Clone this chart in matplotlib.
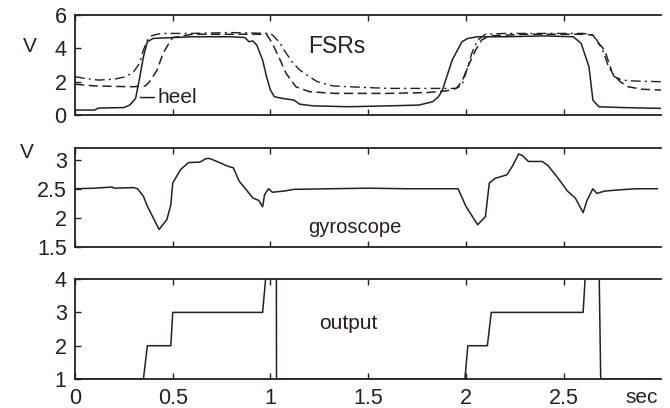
import matplotlib
matplotlib.use("Agg")
import matplotlib.pyplot as plt

plt.rcParams['font.family'] = ['Liberation Sans', 'DejaVu Sans']
ink = '#2b1d1d'

# FSR signals (V)
heel_t = [0, 0.1, 0.12, 0.25, 0.28, 0.31, 0.33, 0.35, 0.37, 0.40, 0.5, 0.6, 0.8, 0.87, 0.89, 0.91,
          0.93, 0.96, 0.98, 1.0, 1.02, 1.06, 1.12, 1.15, 1.22, 1.4, 1.6, 1.76, 1.83, 1.86, 1.88, 1.93,
          1.98, 2.01, 2.06, 2.2, 2.4, 2.55, 2.59, 2.63, 2.65, 2.68, 2.8, 3.0]
heel_v = [0.3, 0.3, 0.42, 0.45, 0.6, 1.0, 2.2, 3.5, 4.4, 4.6, 4.65, 4.7, 4.7, 4.65, 4.4, 4.45,
          4.2, 3.3, 2.3, 1.5, 1.1, 1.0, 0.9, 0.65, 0.55, 0.5, 0.55, 0.6, 0.8, 1.1, 1.5, 3.3,
          4.4, 4.6, 4.7, 4.7, 4.75, 4.7, 4.3, 2.9, 0.9, 0.5, 0.45, 0.4]

dash_t = [0, 0.1, 0.2, 0.3, 0.36, 0.38, 0.42, 0.45, 0.49, 0.5, 0.55, 0.6, 0.8, 0.95, 0.98, 1.01,
          1.05, 1.08, 1.13, 1.2, 1.33, 1.6, 1.8, 1.9, 1.95, 1.98, 2.01, 2.05, 2.08, 2.12, 2.3,
          2.6, 2.65, 2.68, 2.71, 2.75, 2.79, 2.83, 2.9, 3.0]
dash_v = [1.85, 1.75, 1.72, 1.7, 1.75, 1.98, 2.7, 3.7, 4.5, 4.65, 4.75, 4.85, 4.85, 4.85, 4.85, 4.3,
          3.3, 2.5, 1.7, 1.4, 1.3, 1.3, 1.35, 1.45, 1.6, 2.0, 2.9, 3.9, 4.5, 4.75, 4.85,
          4.85, 4.8, 4.3, 3.9, 2.5, 2.0, 1.7, 1.55, 1.5]

dd_t = [0, 0.05, 0.12, 0.2, 0.26, 0.3, 0.33, 0.35, 0.37, 0.39, 0.42, 0.45, 0.6, 0.8, 1.0, 1.02,
        1.05, 1.07, 1.11, 1.15, 1.2, 1.24, 1.32, 1.4, 1.6, 1.8, 1.95, 1.98, 2.01, 2.03, 2.06,
        2.1, 2.2, 2.4, 2.6, 2.65, 2.67, 2.7, 2.73, 2.76, 2.8, 2.85, 3.0]
dd_v = [2.3, 2.2, 2.1, 2.15, 2.3, 2.6, 3.1, 3.9, 4.5, 4.75, 4.85, 4.9, 4.9, 4.95, 4.9, 4.7,
        4.3, 3.9, 3.2, 2.7, 2.3, 2.0, 1.75, 1.7, 1.6, 1.6, 1.6, 1.8, 2.9, 3.7, 4.5,
        4.85, 4.9, 4.9, 4.9, 4.8, 4.5, 3.9, 2.9, 2.3, 2.1, 2.05, 2.0]

# gyroscope (V)
gyro_t = [0, 0.1, 0.19, 0.2, 0.3, 0.32, 0.35, 0.37, 0.43, 0.47, 0.49, 0.5, 0.54, 0.58, 0.64, 0.67,
          0.69, 0.74, 0.78, 0.81, 0.84, 0.86, 0.91, 0.94, 0.96, 0.97, 0.99, 1.01, 1.07, 1.12,
          1.3, 1.5, 1.7, 1.9, 1.96, 2.0, 2.06, 2.1, 2.12, 2.15, 2.21, 2.24, 2.27, 2.29, 2.32,
          2.39, 2.42, 2.47, 2.52, 2.56, 2.6, 2.62, 2.65, 2.67, 2.71, 2.78, 2.87, 2.98]
gyro_v = [2.5, 2.51, 2.53, 2.51, 2.52, 2.5, 2.37, 2.2, 1.8, 1.97, 2.22, 2.6, 2.83, 2.95, 2.96, 3.02,
          3.02, 2.95, 2.89, 2.86, 2.63, 2.55, 2.34, 2.3, 2.19, 2.4, 2.5, 2.44, 2.46, 2.49,
          2.5, 2.51, 2.5, 2.5, 2.5, 2.2, 1.88, 2.02, 2.6, 2.68, 2.74, 2.9, 3.1, 3.07, 2.97,
          2.97, 2.9, 2.69, 2.46, 2.34, 2.09, 2.3, 2.5, 2.42, 2.46, 2.48, 2.5, 2.5]

# detector output
out_t = [0, 0.35, 0.37, 0.49, 0.5, 0.96, 0.99, 1.03, 1.031, 1.995, 2.01, 2.11, 2.13, 2.6, 2.62,
         2.68, 2.69, 3.0]
out_v = [1, 1, 2, 2, 3, 3, 5, 5, 1, 1, 2, 2, 3, 3, 5, 5, 1, 1]

xticks = [0, 0.5, 1, 1.5, 2, 2.5]
xlabels = ['0', '0.5', '1', '1.5', '2', '2.5']
fsr_ticks = [0, 2, 4, 6]
gyro_ticks = [1.5, 2, 2.5, 3]
gyro_labels = ['1.5', '2', '2.5', '3']
out_ticks = [1, 2, 3, 4]

fig = plt.figure(figsize=(6.7, 4.08), dpi=100)
ax1 = fig.add_axes([0.112, 0.718, 0.875, 0.245])
ax2 = fig.add_axes([0.112, 0.395, 0.875, 0.242])
ax3 = fig.add_axes([0.112, 0.071, 0.875, 0.245])

ax1.plot(heel_t, heel_v, color=ink, lw=1.1)
ax1.plot(dash_t, dash_v, color=ink, lw=1.1, linestyle=(0, (6, 3)))
ax1.plot(dd_t, dd_v, color=ink, lw=1.0, linestyle=(0, (7, 3, 1.5, 3)))
ax1.set_ylim(0, 6)
ax1.set_yticks(fsr_ticks)
ax1.set_yticklabels([str(v) for v in fsr_ticks])
ax1.text(1.34, 4.1, 'FSRs', fontsize=16.5, ha='center', va='center', color=ink)
ax1.annotate('heel', xy=(0.335, 1.05), xytext=(0.42, 1.05), fontsize=15, va='center', color=ink,
             arrowprops=dict(arrowstyle='-', color=ink, lw=1.1, shrinkA=0, shrinkB=0))

ax2.plot(gyro_t, gyro_v, color=ink, lw=1.1)
ax2.set_ylim(1.5, 3.2)
ax2.set_yticks(gyro_ticks)
ax2.set_yticklabels(gyro_labels)
ax2.text(1.43, 1.84, 'gyroscope', fontsize=14.5, ha='center', va='center', color=ink)

ax3.plot(out_t, out_v, color=ink, lw=1.1)
ax3.set_ylim(1, 4)
ax3.set_yticks(out_ticks)
ax3.set_yticklabels([str(v) for v in out_ticks])
ax3.text(1.4, 2.67, 'output', fontsize=15, ha='center', va='center', color=ink)
ax3.set_xticklabels(xlabels)
ax3.text(2.9, -0.185, 'sec', fontsize=15, ha='center', va='center', color=ink,
         transform=ax3.get_xaxis_transform())

for ax in (ax1, ax2, ax3):
    ax.set_xlim(0, 3)
    ax.set_xticks(xticks)
    ax.spines['right'].set_visible(False)
    for s in ('top', 'bottom', 'left'):
        ax.spines[s].set_linewidth(1.3)
        ax.spines[s].set_color(ink)
    ax.tick_params(direction='in', top=True, length=4, width=1, colors=ink, labelsize=15.5,
                   pad=6)
    ax.tick_params(axis='x', pad=6.5)
    if ax is not ax3:
        ax.set_xticklabels([])

fig.text(0.045, 0.885, 'V', fontsize=15, ha='center', va='center', color=ink)
fig.text(0.04, 0.625, 'V', fontsize=15, ha='center', va='center', color=ink)

fig.savefig('out.png', dpi=100)
